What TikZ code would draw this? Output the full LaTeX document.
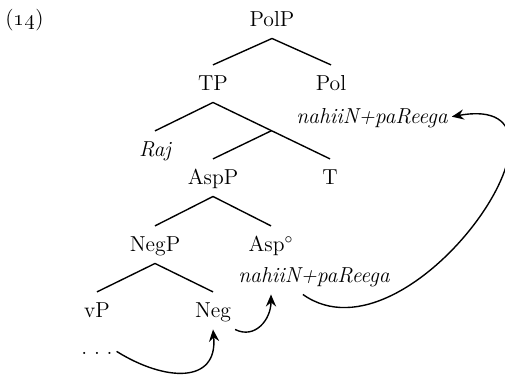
\documentclass[tikz,border=0pt,11pt]{standalone}
\usepackage{amsmath,amssymb}
\usepackage{tikz}
\usetikzlibrary{arrows.meta,calc}
\newcommand{\treefont}{\fontsize{11.7}{14}\selectfont}

\begin{document}
\begin{tikzpicture}[
  x=0.54pt, y=-0.54pt,
  cat/.style={anchor=base, font=\treefont, text height=7.9pt, text depth=0pt, inner xsep=2pt, inner ysep=6pt},
  lex/.style={cat, font=\treefont\itshape},
  branch/.style={line width=0.75pt},
  arr/.style={-{Stealth[length=6.5pt, width=5.5pt, inset=2.2pt]}, line width=0.75pt}]
\useasboundingbox (0,0) rectangle (505,379);
\node[anchor=base west, inner sep=0pt, font=\treefont] (ex) at (5,26) {(\oldstylenums{14})};
\node[cat] (polp) at (272,27) {PolP};
\node[cat] (tp) at (213,91) {TP};
\node[cat] (pol) at (331,91) {Pol};
\node[lex] (polv) at (372,124) {nahiiN+paReega};
\node[lex] (raj) at (155,157) {Raj};
\node[cat] (aspp) at (213,185) {AspP};
\node[cat] (t) at (330,185) {T};
\node[cat] (negp) at (155,252) {NegP};
\node[cat] (asp) at (271,252) {Asp$^\circ$};
\node[lex] (aspv) at (314,283) {nahiiN+paReega};
\node[cat] (vp) at (97,318) {vP};
\node[cat] (neg) at (213,318) {Neg};
\node[cat] (dots) at (97,355) {.\hspace{3.6pt}.\hspace{3.6pt}.};
% branches
\draw[branch] (polp.south) -- (tp.north);
\draw[branch] (polp.south) -- (pol.north);
\draw[branch] (tp.south) -- (raj.north);
\draw[branch] (tp.south) -- coordinate[pos=0.5] (tpmid) (t.north);
\draw[branch] (tpmid) -- (aspp.north);
\draw[branch] (aspp.south) -- (negp.north);
\draw[branch] (aspp.south) -- (asp.north);
\draw[branch] (negp.south) -- (vp.north);
\draw[branch] (negp.south) -- (neg.north);
% movement
\draw[arr] ([yshift=-2pt]dots.east) .. controls +(48,30) and +(5,55) .. (neg.south);
\draw[arr] (neg.south east) .. controls +(20,10) and +(0,25) .. (asp |- aspv.south);
\draw[arr] ([xshift=-6pt]aspv.south) .. controls +(107,76) and +(150,-27) .. (polv.east);
\end{tikzpicture}
\end{document}
